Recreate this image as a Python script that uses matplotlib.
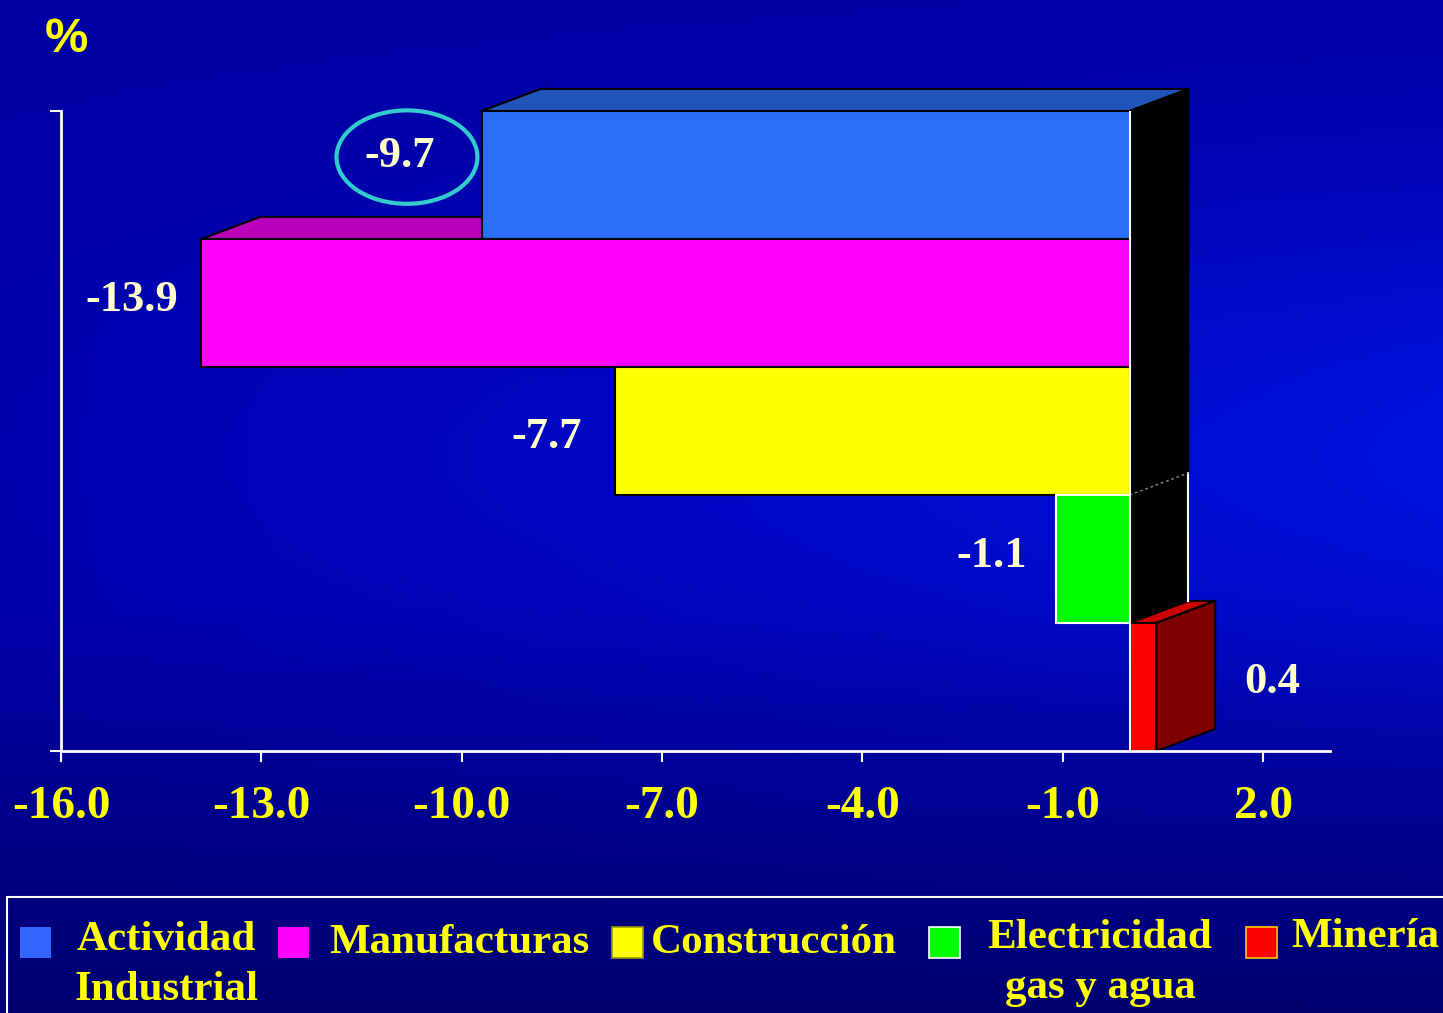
import numpy as np
import matplotlib.pyplot as plt
from matplotlib.patches import Polygon, Rectangle, Ellipse

# datos
sectores = ["Actividad\nIndustrial", "Manufacturas", "Construcción",
            "Electricidad\ngas y agua", "Minería"]
variacion = [-9.7, -13.9, -7.7, -1.1, 0.4]
etiquetas = ["-9.7", "-13.9", "-7.7", "-1.1", "0.4"]
xticks = [-16, -13, -10, -7, -4, -1, 2]
xtick_labels = ["-16.0", "-13.0", "-10.0", "-7.0", "-4.0", "-1.0", "2.0"]

# colores
frente = ["#2b6ff8", "#ff00ff", "#ffff00", "#00ff00", "#ff0000"]
techo = ["#2255bb", "#bb00bb", "#bbbb00", "#00bb00", "#cc0000"]
bordes = ["black", "black", "black", "white", "black"]
leg_colores = ["#3366ff", "#ff00ff", "#ffff00", "#00ff00", "#ff0000"]
leg_bordes = ["none", "none", "#999900", "white", "#ffcc00"]
AMARILLO = "#ffff00"
CREMA = "#ffffcc"

W, H = 1443, 1013
DX, DY = 0.88, 0.172   # profundidad 3D (unidades de datos)

fig = plt.figure(figsize=(W / 100, H / 100), dpi=100)

# fondo degradado
bg = fig.add_axes([0, 0, 1, 1])
bg.axis("off")
yy, xx = np.mgrid[0:1:300j, 0:1:300j]
bump = np.exp(-((yy - 0.45) / 0.27) ** 2)
b = 0.64 - 0.2 * np.clip(yy - 0.6, 0, None) / 0.4 + 0.18 * xx * bump + 0.05 * bump
g = 0.07 * xx * bump
img = np.dstack([np.zeros_like(b), g, b])
bg.imshow(img, extent=[0, 1, 0, 1], aspect="auto", zorder=0)
bg.set_xlim(0, 1)
bg.set_ylim(0, 1)

ax = fig.add_axes([61 / W, 262 / H, 1269 / W, 640 / H])
ax.set_facecolor("none")
ax.set_xlim(-16, 3)
ax.set_ylim(4.5, -0.5)

# caras superiores
for i, v in enumerate(variacion):
    lo, hi = min(0, v), max(0, v)
    top = i - 0.5
    p = Polygon([(lo, top), (hi, top), (hi + DX, top - DY), (lo + DX, top - DY)],
                closed=True, facecolor=techo[i], edgecolor="black", lw=1.5,
                zorder=2, clip_on=False)
    ax.add_patch(p)
# caras laterales
for i, v in enumerate(variacion):
    hi = max(0, v)
    top, bot = i - 0.5, i + 0.5
    col = "black" if v < 0 else "#800000"
    ec = "black" if bordes[i] == "black" else "none"
    p = Polygon([(hi, top), (hi + DX, top - DY), (hi + DX, bot - DY), (hi, bot)],
                closed=True, facecolor=col, edgecolor=ec, lw=1.5,
                zorder=3, clip_on=False)
    ax.add_patch(p)
    if bordes[i] == "white":
        ax.plot([hi + DX, hi + DX], [top - DY, bot - DY], color="white", lw=1.5,
                zorder=3.5, clip_on=False)
        ax.plot([hi, hi + DX], [top, top - DY], color="#888888", lw=1, ls=(0, (2, 2)),
                zorder=3.5, clip_on=False)
# frentes
for i, v in enumerate(variacion):
    lo, hi = min(0, v), max(0, v)
    r = Rectangle((lo, i - 0.5), hi - lo, 1, facecolor=frente[i],
                  edgecolor=bordes[i], lw=1.5, zorder=4, clip_on=False)
    ax.add_patch(r)

ax.axvline(0, color="white", lw=1.5, zorder=5)

# etiquetas de valores
offs = [(-59, 14, "center"), (-17, 2, "right"), (-24, -4.5, "right"),
        (-21, 2, "right"), (63, 3.5, "left")]
for i, v in enumerate(variacion):
    dx, dy, ha = offs[i]
    ax.annotate(etiquetas[i], xy=(v, i), xytext=(dx, dy), textcoords="offset points",
                ha=ha, va="center", color=CREMA, fontsize=32, fontweight="bold",
                family="Liberation Serif", zorder=6, annotation_clip=False)

# ovalo sobre -9.7
ax.add_patch(Ellipse((variacion[0] - 1.12, -0.14), 2.11, 0.73, fill=False,
                     edgecolor="#33cccc", lw=3, zorder=6, clip_on=False))

# ejes
for s in ["top", "right"]:
    ax.spines[s].set_visible(False)
for s in ["left", "bottom"]:
    ax.spines[s].set_color("white")
    ax.spines[s].set_linewidth(2)
    ax.spines[s].set_zorder(5)
ax.set_xticks(xticks, xtick_labels)
ax.set_yticks([-0.5, 4.5], ["", ""])
ax.tick_params(axis="both", direction="out", length=8, width=1.5, color="white")
ax.tick_params(axis="x", pad=17, labelcolor=AMARILLO)
for t in ax.get_xticklabels():
    t.set_fontsize(34)
    t.set_fontweight("bold")
    t.set_family("Liberation Serif")

fig.text(45 / W, 1 - 52 / H, "%", color=AMARILLO, fontsize=35, fontweight="bold",
         family="Liberation Sans", va="baseline", ha="left")

# leyenda
fig.add_artist(Rectangle((7 / W, -0.1), 1.1, (H - 897) / H + 0.1, transform=fig.transFigure,
                         fill=False, edgecolor="white", lw=1.5))
leg_sq_x = [20, 278, 612, 929, 1246]
leg_txt_x = [166, 329, 651, 1100, 1291]
leg_ha = ["center", "left", "left", "center", "left"]
leg_base = [950, 953, 953, 948, 947]
for k, nombre in enumerate(sectores):
    fig.add_artist(Rectangle((leg_sq_x[k] / W, 1 - 958 / H), 31 / W, 31 / H,
                             transform=fig.transFigure, facecolor=leg_colores[k],
                             edgecolor=leg_bordes[k], lw=1.2))
    for j, linea in enumerate(nombre.split("\n")):
        fig.text(leg_txt_x[k] / W, 1 - (leg_base[k] + 50 * j) / H, linea,
                 color=AMARILLO, fontsize=31, fontweight="bold",
                 family="Liberation Serif", ha=leg_ha[k], va="baseline")

fig.savefig("out.png", dpi=100)
